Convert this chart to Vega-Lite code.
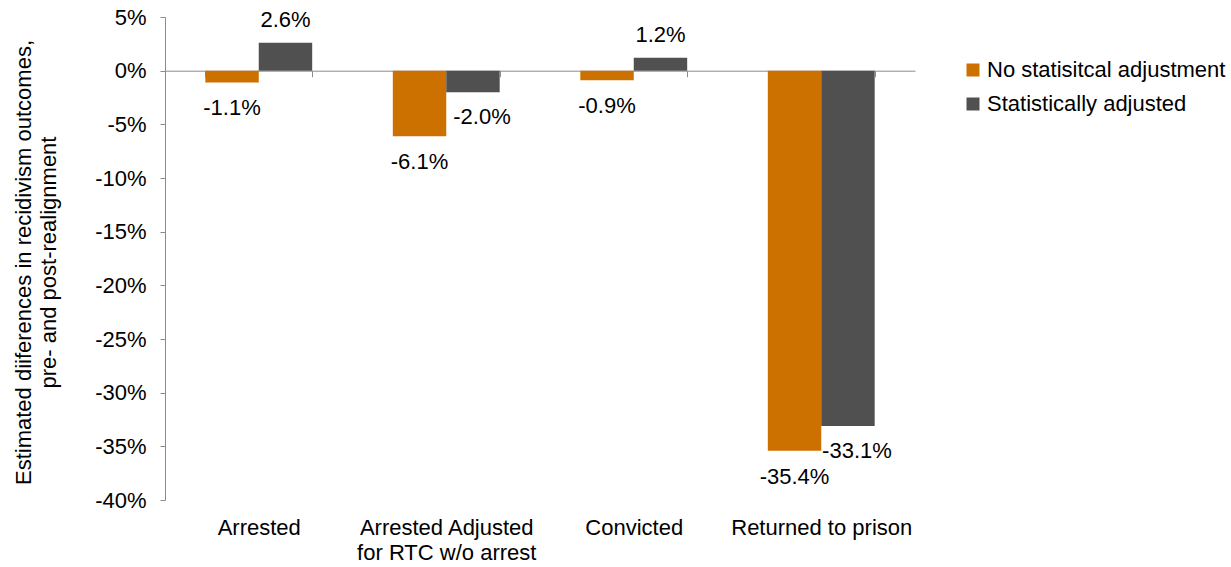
{
  "$schema": "https://vega.github.io/schema/vega-lite/v6.json",
  "width": 750,
  "height": 483,
  "autosize": {"type": "none"},
  "padding": {"left": 165, "top": 17, "right": 316, "bottom": 67},
  "config": {
    "font": "Liberation Sans",
    "locale": {"number": {"decimal": ".", "thousands": ",", "grouping": [3], "currency": ["$", ""], "minus": "-"}},
    "view": {"stroke": null},
    "axis": {"labelFont": "Liberation Sans", "titleFont": "Liberation Sans", "labelColor": "#000000", "titleColor": "#000000", "domainColor": "#8c8c8c", "tickColor": "#8c8c8c", "grid": false}
  },
  "data": {
    "values": [
      {"category": "Arrested", "series": "No statisitcal adjustment", "value": -0.011},
      {"category": "Arrested", "series": "Statistically adjusted", "value": 0.026},
      {"category": "Arrested Adjusted for RTC w/o arrest", "series": "No statisitcal adjustment", "value": -0.061},
      {"category": "Arrested Adjusted for RTC w/o arrest", "series": "Statistically adjusted", "value": -0.020},
      {"category": "Convicted", "series": "No statisitcal adjustment", "value": -0.009},
      {"category": "Convicted", "series": "Statistically adjusted", "value": 0.012},
      {"category": "Returned to prison", "series": "No statisitcal adjustment", "value": -0.354},
      {"category": "Returned to prison", "series": "Statistically adjusted", "value": -0.331}
    ]
  },
  "encoding": {
    "x": {
      "field": "category",
      "type": "nominal",
      "sort": ["Arrested", "Arrested Adjusted for RTC w/o arrest", "Convicted", "Returned to prison"],
      "scale": {"paddingInner": 0.43, "paddingOuter": 0.215},
      "axis": {
        "title": null,
        "orient": "bottom",
        "offset": -429.3,
        "labelAngle": 0,
        "labelFontSize": 22,
        "labelLineHeight": 25,
        "labelPadding": 441,
        "labelBaseline": "top",
        "labelLimit": 300,
        "tickBand": "extent",
        "tickSize": 6,
        "labelExpr": "datum.value == 'Arrested Adjusted for RTC w/o arrest' ? ['Arrested Adjusted', 'for RTC w/o arrest'] : datum.label"
      }
    },
    "xOffset": {
      "field": "series",
      "sort": ["No statisitcal adjustment", "Statistically adjusted"],
      "scale": {"paddingInner": 0, "paddingOuter": 0}
    },
    "y": {
      "field": "value",
      "type": "quantitative",
      "scale": {"domain": [-0.4, 0.05], "nice": false, "zero": false},
      "axis": {
        "values": [-0.4, -0.35, -0.3, -0.25, -0.2, -0.15, -0.1, -0.05, 0, 0.05],
        "format": ".0%",
        "labelFontSize": 22,
        "labelPadding": 14,
        "tickSize": 5,
        "title": ["Estimated diiferences in recidivism outcomes,", "pre- and post-realignment"],
        "titleFontSize": 22,
        "titleFontWeight": "normal",
        "titleLineHeight": 25,
        "titleBaseline": "alphabetic",
        "titleAngle": -90,
        "titleAlign": "center",
        "titleX": -135,
        "titleY": 245
      }
    }
  },
  "layer": [
    {
      "mark": {"type": "bar"},
      "encoding": {
        "color": {
          "field": "series",
          "type": "nominal",
          "sort": ["No statisitcal adjustment", "Statistically adjusted"],
          "scale": {"domain": ["No statisitcal adjustment", "Statistically adjusted"], "range": ["#CC7000", "#505050"]},
          "legend": {
            "title": null,
            "orient": "none",
            "legendX": 797,
            "legendY": 42,
            "symbolType": "square",
            "symbolSize": 169,
            "symbolStrokeWidth": 0,
            "labelFontSize": 22,
            "labelColor": "#000000",
            "labelFont": "Liberation Sans",
            "labelLimit": 400,
            "rowPadding": 12,
            "labelOffset": 3
          }
        }
      }
    },
    {
      "transform": [{"filter": "datum.value > 0"}],
      "mark": {"type": "text", "dy": -23, "baseline": "middle", "fontSize": 22, "color": "#000000"},
      "encoding": {"text": {"field": "value", "type": "quantitative", "format": ".1%"}}
    },
    {
      "transform": [{"filter": "datum.value < 0 && datum.series == 'No statisitcal adjustment'"}],
      "mark": {"type": "text", "dy": 26, "baseline": "middle", "fontSize": 22, "color": "#000000"},
      "encoding": {"text": {"field": "value", "type": "quantitative", "format": ".1%"}}
    },
    {
      "transform": [{"filter": "datum.value < 0 && datum.series == 'Statistically adjusted'"}],
      "mark": {"type": "text", "dy": 25, "dx": 9, "baseline": "middle", "fontSize": 22, "color": "#000000"},
      "encoding": {"text": {"field": "value", "type": "quantitative", "format": ".1%"}}
    }
  ]
}
